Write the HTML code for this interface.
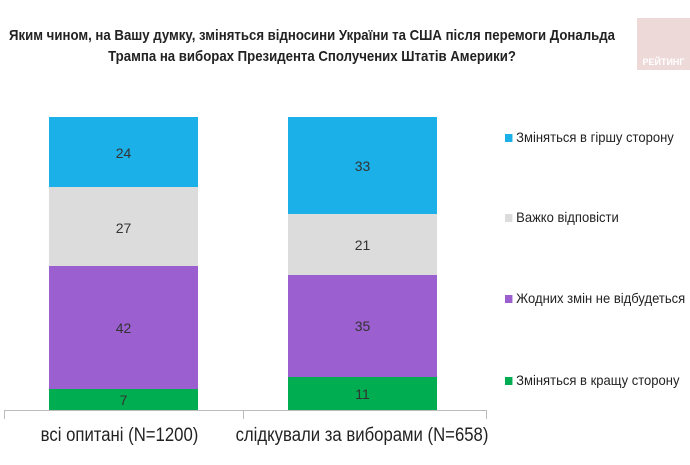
<!DOCTYPE html>
<html><head><meta charset="utf-8"><style>
body{margin:0;width:690px;height:465px;background:#fff;overflow:hidden;position:relative;font-family:"Liberation Sans",sans-serif;}
.t{position:absolute;left:-100px;width:824px;text-align:center;font-weight:bold;font-size:15px;color:#222;line-height:21px;top:25px;white-space:nowrap;transform:scaleX(0.88);transform-origin:412px 0;}
.s{position:absolute;}
.n{position:absolute;width:149px;text-align:center;font-size:14px;color:#333;}
.lg{position:absolute;left:505px;font-size:14px;color:#222;white-space:nowrap;transform:scaleX(0.93);transform-origin:0 0;}
.lg i{display:inline-block;width:8px;height:8px;margin-right:4px;vertical-align:0px;}
.x{position:absolute;top:425px;font-size:19px;color:#222;text-align:center;white-space:nowrap;transform:scaleX(0.88);}
</style></head><body>
<div class="t">Яким чином, на Вашу думку, зміняться відносини України та США після перемоги Дональда<br>Трампа на виборах Президента Сполучених Штатів Америки?</div>
<div class="s" style="left:637px;top:18px;width:53px;height:52px;background:#eed9d9;"></div>
<div class="s" style="left:637px;top:57px;width:53px;color:#fff;font-size:9px;font-weight:bold;text-align:center">РЕЙТИНГ</div>

<div class="s" style="left:49px;top:117px;width:149px;height:70px;background:#1bb0e8"></div>
<div class="s" style="left:49px;top:187px;width:149px;height:79px;background:#dcdcdc"></div>
<div class="s" style="left:49px;top:266px;width:149px;height:123px;background:#9c5fd0"></div>
<div class="s" style="left:49px;top:389px;width:149px;height:21px;background:#00ad50"></div>
<div class="n" style="left:49px;top:145px">24</div>
<div class="n" style="left:49px;top:220px">27</div>
<div class="n" style="left:49px;top:320px">42</div>
<div class="n" style="left:49px;top:392px">7</div>

<div class="s" style="left:288px;top:117px;width:149px;height:97px;background:#1bb0e8"></div>
<div class="s" style="left:288px;top:214px;width:149px;height:61px;background:#dcdcdc"></div>
<div class="s" style="left:288px;top:275px;width:149px;height:102px;background:#9c5fd0"></div>
<div class="s" style="left:288px;top:377px;width:149px;height:33px;background:#00ad50"></div>
<div class="n" style="left:288px;top:158px">33</div>
<div class="n" style="left:288px;top:237px">21</div>
<div class="n" style="left:288px;top:318px">35</div>
<div class="n" style="left:288px;top:386px">11</div>

<div class="s" style="left:4px;top:410px;width:483px;height:1px;background:#bbb"></div>
<div class="s" style="left:4px;top:410px;width:1px;height:9px;background:#bbb"></div>
<div class="s" style="left:243px;top:410px;width:1px;height:9px;background:#bbb"></div>
<div class="s" style="left:486px;top:410px;width:1px;height:9px;background:#bbb"></div>
<div class="x" style="left:0px;width:239px">всі опитані (N=1200)</div>
<div class="x" style="left:212px;width:300px">слідкували за виборами (N=658)</div>

<div class="lg" style="top:129px"><i style="background:#1bb0e8"></i>Зміняться в гіршу сторону</div>
<div class="lg" style="top:209px"><i style="background:#dcdcdc"></i>Важко відповісти</div>
<div class="lg" style="top:290px"><i style="background:#9c5fd0"></i>Жодних змін не відбудеться</div>
<div class="lg" style="top:372px"><i style="background:#00ad50"></i>Зміняться в кращу сторону</div>
</body></html>
